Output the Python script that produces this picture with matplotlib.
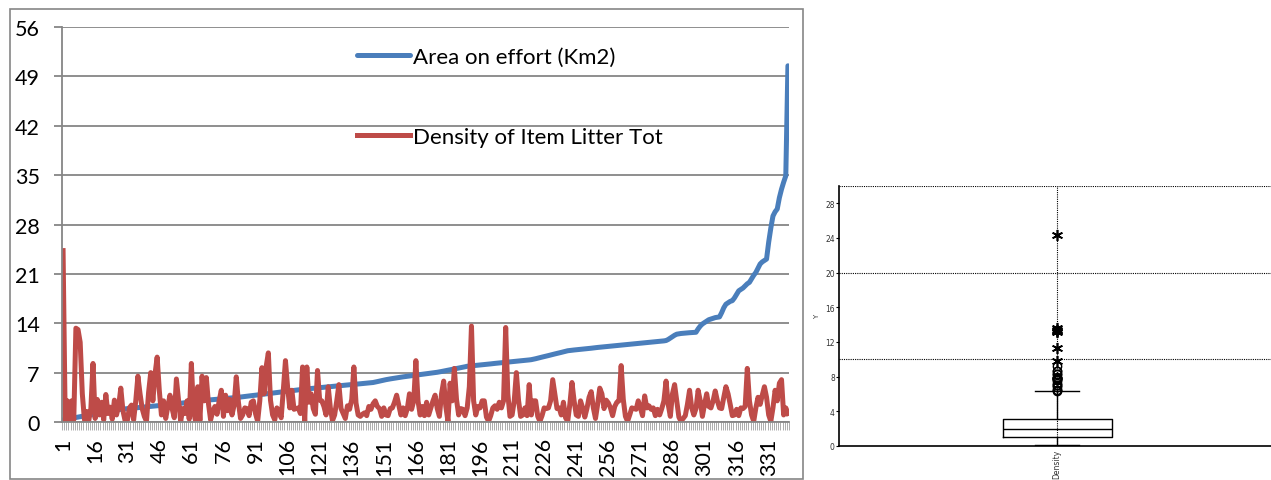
import numpy as np
import matplotlib
matplotlib.use("Agg")
import matplotlib.pyplot as plt
from matplotlib.patches import Rectangle

# Area on effort (Km2), sorted ascending, one value per transect
area = [
    0.30, 0.36, 0.41, 0.47, 0.52, 0.58, 0.64, 0.70, 0.75, 0.81, 0.86, 0.92, 0.97, 1.03, 1.08, 1.14, 1.19, 1.25, 1.30, 1.36,
    1.41, 1.47, 1.52, 1.58, 1.63, 1.69, 1.74, 1.80, 1.83, 1.86, 1.89, 1.92, 1.95, 1.98, 2.01, 2.04, 2.07, 2.10, 2.13, 2.16,
    2.19, 2.22, 2.25, 2.28, 2.31, 2.34, 2.37, 2.40, 2.43, 2.46, 2.48, 2.50, 2.54, 2.58, 2.62, 2.66, 2.70, 2.73, 2.77, 2.81,
    2.85, 2.88, 2.92, 2.96, 3.00, 3.03, 3.06, 3.08, 3.11, 3.14, 3.17, 3.19, 3.22, 3.25, 3.28, 3.31, 3.33, 3.36, 3.39, 3.42,
    3.44, 3.47, 3.50, 3.54, 3.58, 3.61, 3.65, 3.69, 3.73, 3.76, 3.80, 3.84, 3.88, 3.91, 3.95, 3.99, 4.03, 4.06, 4.10, 4.14,
    4.18, 4.21, 4.25, 4.29, 4.33, 4.36, 4.40, 4.44, 4.48, 4.51, 4.55, 4.59, 4.63, 4.66, 4.70, 4.73, 4.76, 4.79, 4.82, 4.85,
    4.88, 4.90, 4.93, 4.96, 4.99, 5.02, 5.05, 5.08, 5.10, 5.13, 5.16, 5.19, 5.22, 5.25, 5.28, 5.30, 5.33, 5.36, 5.39, 5.42,
    5.45, 5.48, 5.50, 5.53, 5.56, 5.60, 5.66, 5.73, 5.80, 5.87, 5.93, 6.00, 6.06, 6.11, 6.16, 6.21, 6.26, 6.30, 6.35, 6.40,
    6.44, 6.48, 6.52, 6.56, 6.60, 6.65, 6.69, 6.73, 6.77, 6.81, 6.85, 6.89, 6.93, 6.97, 7.01, 7.05, 7.10, 7.16, 7.22, 7.28,
    7.34, 7.40, 7.46, 7.52, 7.58, 7.64, 7.70, 7.76, 7.83, 7.90, 7.93, 7.96, 7.99, 8.02, 8.05, 8.09, 8.12, 8.15, 8.18, 8.21,
    8.24, 8.28, 8.31, 8.34, 8.37, 8.40, 8.44, 8.47, 8.50, 8.53, 8.56, 8.59, 8.62, 8.65, 8.68, 8.71, 8.74, 8.77, 8.80, 8.84,
    8.90, 8.97, 9.05, 9.12, 9.20, 9.27, 9.35, 9.42, 9.50, 9.57, 9.65, 9.72, 9.80, 9.87, 9.95, 10.02, 10.10, 10.14, 10.18, 10.21,
    10.24, 10.27, 10.30, 10.33, 10.36, 10.39, 10.42, 10.46, 10.50, 10.54, 10.57, 10.60, 10.63, 10.66, 10.69, 10.72, 10.75, 10.78, 10.81, 10.84,
    10.87, 10.90, 10.93, 10.96, 10.99, 11.02, 11.05, 11.08, 11.11, 11.14, 11.17, 11.20, 11.23, 11.26, 11.29, 11.32, 11.35, 11.38, 11.41, 11.44,
    11.47, 11.50, 11.55, 11.70, 11.90, 12.10, 12.30, 12.45, 12.50, 12.55, 12.58, 12.61, 12.64, 12.66, 12.68, 12.70, 12.72, 13.20, 13.60, 13.90,
    14.10, 14.30, 14.50, 14.60, 14.70, 14.80, 14.85, 14.90, 15.50, 16.20, 16.70, 16.90, 17.10, 17.20, 17.60, 18.10, 18.60, 18.80, 19.00, 19.30,
    19.60, 19.80, 20.30, 20.80, 21.20, 21.80, 22.40, 22.70, 22.90, 23.10, 25.50, 27.50, 29.20, 29.80, 30.20, 31.80, 33.00, 34.00, 34.90, 50.50,
]

# Density of Item Litter Tot, same order
density = [
    24.3, 0.2, 3.0, 0.1, 3.0, 0.3, 13.3, 13.1, 11.3, 4.0, 0.3, 1.5, 0.2, 1.9, 8.3, 0.5, 3.2, 1.0, 2.8, 0.3,
    3.9, 1.2, 2.1, 0.4, 3.1, 1.0, 2.3, 4.8, 1.6, 0.2, 0.1, 2.0, 2.4, 0.3, 3.0, 6.5, 4.0, 1.9, 0.8, 0.1,
    4.2, 7.0, 3.0, 6.8, 9.2, 4.5, 1.0, 3.0, 0.5, 2.2, 3.8, 1.9, 0.6, 6.1, 3.1, 0.1, 1.9, 1.2, 3.0, 0.4,
    8.3, 1.5, 0.1, 5.0, 0.2, 6.5, 3.0, 6.3, 2.6, 0.3, 1.5, 2.2, 1.1, 3.0, 4.5, 0.8, 3.8, 1.6, 3.2, 1.0,
    2.4, 6.4, 2.8, 0.5, 1.0, 2.0, 1.9, 0.9, 2.8, 3.0, 1.2, 0.1, 3.0, 7.7, 4.0, 7.9, 9.8, 3.1, 1.0, 0.3,
    2.0, 1.5, 0.6, 4.5, 8.7, 5.0, 2.0, 4.5, 1.8, 1.9, 2.0, 1.2, 7.8, 0.1, 7.8, 2.8, 4.0, 1.9, 1.1, 7.3,
    3.1, 3.0, 2.2, 1.0, 5.0, 2.0, 0.2, 1.0, 3.0, 5.3, 1.9, 1.2, 0.5, 2.3, 1.8, 3.2, 7.8, 2.7, 1.0, 0.8,
    1.1, 1.3, 0.9, 2.2, 1.8, 2.6, 3.0, 2.2, 1.9, 0.8, 2.0, 1.0, 0.9, 1.9, 2.0, 2.8, 3.8, 2.4, 1.0, 2.0,
    0.9, 1.9, 4.0, 1.8, 3.0, 8.7, 3.0, 1.0, 2.2, 0.9, 2.8, 1.0, 2.0, 3.0, 3.8, 1.9, 0.8, 4.0, 5.8, 2.2,
    0.1, 5.5, 3.0, 7.6, 3.2, 1.0, 1.9, 1.8, 0.9, 2.0, 5.0, 13.6, 3.0, 1.0, 2.2, 2.0, 3.0, 3.0, 0.7, 0.1,
    0.9, 2.0, 2.3, 1.8, 2.8, 2.0, 3.0, 13.4, 4.0, 0.8, 1.0, 3.0, 7.0, 3.1, 0.8, 1.0, 2.0, 0.9, 5.3, 1.0,
    3.0, 3.0, 0.8, 0.1, 0.9, 2.0, 1.9, 2.0, 3.0, 6.0, 4.0, 1.9, 2.0, 1.0, 2.8, 0.6, 0.1, 2.5, 5.6, 3.0,
    1.0, 0.8, 3.0, 2.0, 0.7, 1.9, 3.5, 4.3, 2.0, 0.5, 2.5, 4.8, 4.0, 1.9, 3.1, 2.7, 2.0, 0.9, 2.2, 2.8,
    3.0, 8.0, 3.2, 0.8, 0.1, 1.0, 2.0, 1.9, 1.8, 3.0, 2.0, 0.9, 3.7, 2.0, 2.3, 1.8, 2.0, 0.9, 1.8, 1.0,
    1.9, 3.0, 5.8, 2.5, 0.8, 4.0, 5.3, 3.0, 0.7, 0.1, 0.5, 0.9, 2.5, 4.5, 2.0, 1.0, 1.9, 4.5, 3.0, 0.8,
    2.5, 4.0, 2.2, 2.0, 3.0, 4.4, 3.0, 2.0, 1.9, 3.5, 5.0, 4.0, 2.5, 0.9, 1.0, 1.8, 0.9, 2.0, 1.9, 2.2,
    7.6, 3.0, 1.0, 0.1, 2.0, 3.5, 2.5, 3.8, 5.0, 3.5, 1.0, 0.1, 2.0, 4.5, 3.0, 5.5, 6.0, 1.0, 2.0, 1.2,
]

cats = np.arange(1, len(area) + 1)
label_every = 15
y_ticks_left = [0, 7, 14, 21, 28, 35, 42, 49, 56]
y_ticks_right = [0, 4, 8, 12, 16, 20, 24, 28]
grid_right = [10, 20, 30]

W, H = 1271, 481
fig = plt.figure(figsize=(W / 100, H / 100), dpi=100)

def box(l, t, r, b):
    return [l / W, 1 - b / H, (r - l) / W, (b - t) / H]

grey = "#868686"
blue = "#4A7EBB"
red = "#BE4B48"

# ---- left: Excel style line chart
fig.patches.append(Rectangle((10 / W, 1 - 480 / H), 793 / W, 470 / H,
                             transform=fig.transFigure, fill=False, ec=grey, lw=1.2))

ax = fig.add_axes(box(62, 28, 789, 423))
ax.plot(cats, area, color=blue, lw=3.6, label="Area on effort (Km2)", solid_capstyle="round")
ax.plot(cats, density, color=red, lw=3.6, label="Density of Item Litter Tot", solid_joinstyle="round")
ax.set_xlim(0.5, len(cats) + 0.5)
ax.set_ylim(0, 56)
ax.set_yticks(y_ticks_left)
ax.yaxis.grid(True, color=grey, lw=1.3)
ax.set_axisbelow(True)
for s in ["top", "right"]:
    ax.spines[s].set_visible(False)
ax.spines["left"].set_color(grey)
ax.spines["left"].set_linewidth(1.3)
ax.spines["bottom"].set_color(grey)
ax.spines["bottom"].set_linewidth(1.3)
major = cats[::label_every]
ax.set_xticks(major)
ax.set_xticklabels([str(c) for c in major], rotation=90)
ax.set_xticks(np.arange(0.5, len(cats) + 1, 1), minor=True)
ax.tick_params(axis="x", which="major", length=0, pad=11, labelsize=15.5)
ax.tick_params(axis="x", which="minor", length=6, width=0.6, color="#A0A0A0")
ax.tick_params(axis="y", length=6, width=1.3, color=grey, labelsize=15.5, pad=10)
for t in ax.get_xticklabels() + ax.get_yticklabels():
    t.set_fontfamily("Lato")
ax.legend(loc="upper left", bbox_to_anchor=(357 / W, 1 - 48 / H), bbox_transform=fig.transFigure,
          frameon=False, prop={"family": "Lato", "size": 16}, handlelength=2.4,
          handletextpad=0.12, labelspacing=2.7, borderpad=0, borderaxespad=0)

# ---- right: box plot of density
bx = fig.add_axes(box(839, 187, 1275, 447))
bx.set_xlim(0.5, 1.5)
bx.set_ylim(0, 30)
for g in grid_right:
    bx.axhline(g, color="black", ls=(0, (1, 1)), lw=0.8, zorder=0)
bx.axvline(1, color="black", ls=(0, (1, 1)), lw=0.8, zorder=0)
bx.boxplot(density, positions=[1], widths=0.25, whis=1.5, showfliers=False,
           capwidths=0.1,
           boxprops=dict(color="black", lw=1),
           medianprops=dict(color="black", lw=1),
           whiskerprops=dict(color="black", lw=1),
           capprops=dict(color="black", lw=1))
d = np.array(density)
q1, q3 = np.percentile(d, [25, 75])
iqr = q3 - q1
mild = d[(d > q3 + 1.5 * iqr) & (d <= q3 + 3 * iqr)]
extreme = d[d > q3 + 3 * iqr]
bx.plot(np.ones(len(mild)), mild, ls="none", marker="o", ms=6, mfc="none", mec="black", mew=1)
bx.plot(np.ones(len(extreme)), extreme, ls="none", marker=(6, 2, 0), ms=8, color="black", mew=1.2)
bx.set_yticks(y_ticks_right)
bx.set_xticks([1])
bx.set_xticklabels(["Density"], rotation=90)
bx.tick_params(axis="both", labelsize=5.5, length=2, width=0.8, pad=1, labelcolor="#333333")
bx.tick_params(axis="x", length=0, pad=2)
bx.set_ylabel("Y", fontsize=5, labelpad=4, color="#333333")
for s in ["top", "right"]:
    bx.spines[s].set_visible(False)
bx.spines["left"].set_linewidth(1.2)
bx.spines["bottom"].set_linewidth(1.2)

fig.savefig("out.png", dpi=100)
